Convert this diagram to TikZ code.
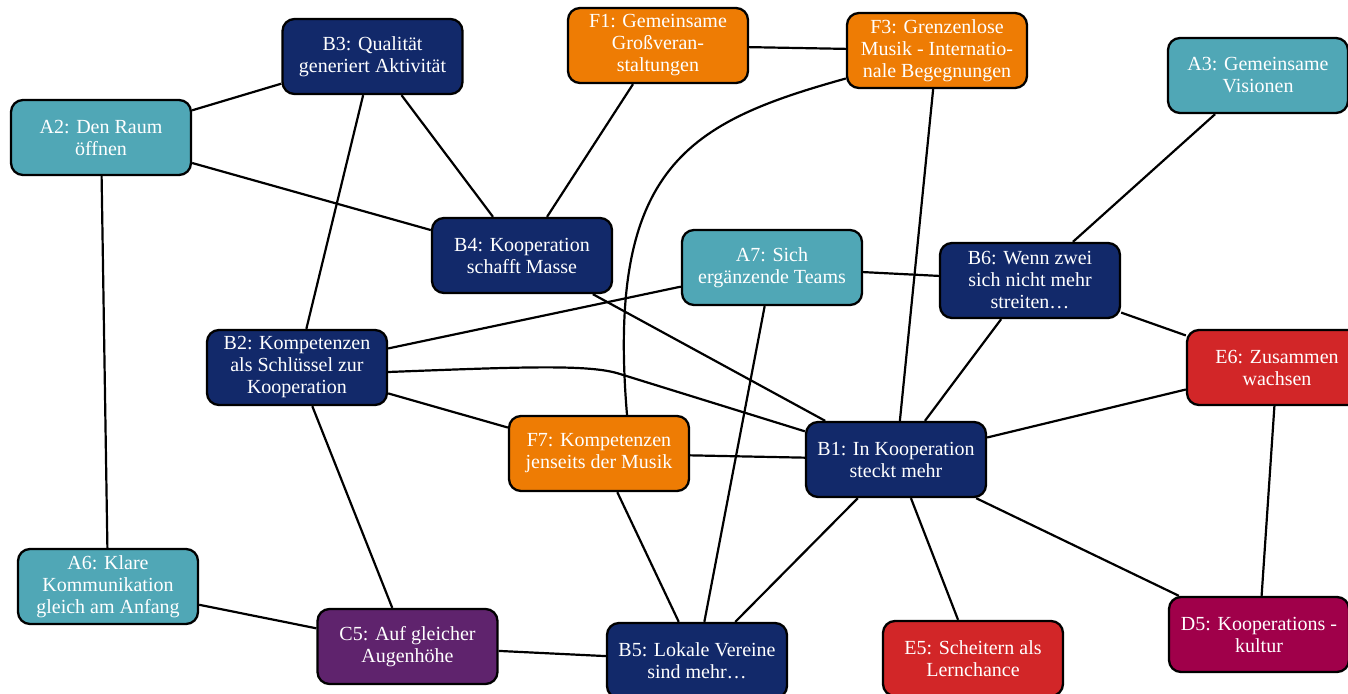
\documentclass[tikz,border=0pt]{standalone}
\usepackage{fontspec}
\setmainfont{Liberation Serif}
\definecolor{cteal}{HTML}{50A7B6}
\definecolor{cnavy}{HTML}{12296A}
\definecolor{corange}{HTML}{EE7C04}
\definecolor{cred}{HTML}{D22628}
\definecolor{cwine}{HTML}{A0004A}
\definecolor{cplum}{HTML}{5F236D}
\tikzset{
  box/.style={draw=black, line width=2.3pt, rounded corners=12pt,
    minimum width=180pt, minimum height=75pt, inner sep=2pt,
    align=center, text=white, font=\fontsize{20}{22}\selectfont},
  aBox/.style={box, fill=cteal},
  bBox/.style={box, fill=cnavy},
  cBox/.style={box, fill=cplum},
  dBox/.style={box, fill=cwine},
  eBox/.style={box, fill=cred},
  fBox/.style={box, fill=corange},
  link/.style={draw=black, line width=2.2pt}
}
\begin{document}
\begin{tikzpicture}[x=1pt, y=-1pt]
\useasboundingbox (0,0) rectangle (1348,693);

% topic boxes
\node[aBox] (A2) at (101,137.5) {A2: Den Raum\\öffnen};
\node[bBox] (B3) at (372.5,56.5) {B3: Qualität\\generiert Aktivität};
\node[fBox] (F1) at (658,45.5) {F1: Gemeinsame\\Großveran-\\staltungen};
\node[fBox] (F3) at (937,50.5) {F3: Grenzenlose\\Musik - Internatio-\\nale Begegnungen};
\node[aBox] (A3) at (1258,75.5) {A3: Gemeinsame\\Visionen};
\node[bBox] (B4) at (522,255.5) {B4: Kooperation\\schafft Masse};
\node[aBox] (A7) at (772,267.5) {A7: Sich\\ergänzende Teams};
\node[bBox] (B6) at (1030,280.5) {B6: Wenn zwei\\sich nicht mehr\\streiten\dots};
\node[bBox] (B2) at (297,367.5) {B2: Kompetenzen\\als Schlüssel zur\\Kooperation};
\node[eBox] (E6) at (1277,367.5) {E6: Zusammen\\wachsen};
\node[fBox] (F7) at (599,453.5) {F7: Kompetenzen\\jenseits der Musik};
\node[bBox] (B1) at (896,459.5) {B1: In Kooperation\\steckt mehr};
\node[eBox] (E5) at (973,658.5) {E5: Scheitern als\\Lernchance};
\node[dBox] (D5) at (1259,634.5) {D5: Kooperations -\\kultur};
\node[aBox] (A6) at (108,586.5) {A6: Klare\\Kommunikation\\gleich am Anfang};
\node[cBox] (C5) at (407.5,646.5) {C5: Auf gleicher\\Augenhöhe};
\node[bBox] (B5) at (697,660.5) {B5: Lokale Vereine\\sind mehr\dots};

% straight connectors
\draw[link] (A2) -- (B3);
\draw[link] (A2) -- (B4);
\draw[link] (A2) -- (A6);
\draw[link] (B3) -- (B2);
\draw[link] (B3) -- (B4);
\draw[link] (F1) -- (F3);
\draw[link] (F1) -- (B4);
\draw[link] (F3) -- (B1);
\draw[link] (A3) -- (B6);
\draw[link] (B4) -- (B1);
\draw[link] (A7) -- (B2);
\draw[link] (A7) -- (B6);
\draw[link] (A7) -- (B5);
\draw[link] (B6) -- (E6);
\draw[link] (B6) -- (B1);
\draw[link] (B2) -- (F7);
\draw[link] (B2) -- (C5);
\draw[link] (E6) -- (B1);
\draw[link] (E6) -- (D5);
\draw[link] (F7) -- (B1);
\draw[link] (F7) -- (B5);
\draw[link] (B1) -- (B5);
\draw[link] (B1) -- (E5);
\draw[link] (B1) -- (D5);
\draw[link] (A6) -- (C5);
\draw[link] (C5) -- (B5);

% curved connectors
\coordinate (bend) at (620,374);
\draw[link] ([yshift=-4.5pt]B2.east) .. controls (520,367) and (590,364) .. (bend) -- (B1);
\draw[link] ([yshift=-28pt]F3.west) .. controls (690,122) and (606,165) .. ([xshift=28pt]F7.north);
\end{tikzpicture}
\end{document}
